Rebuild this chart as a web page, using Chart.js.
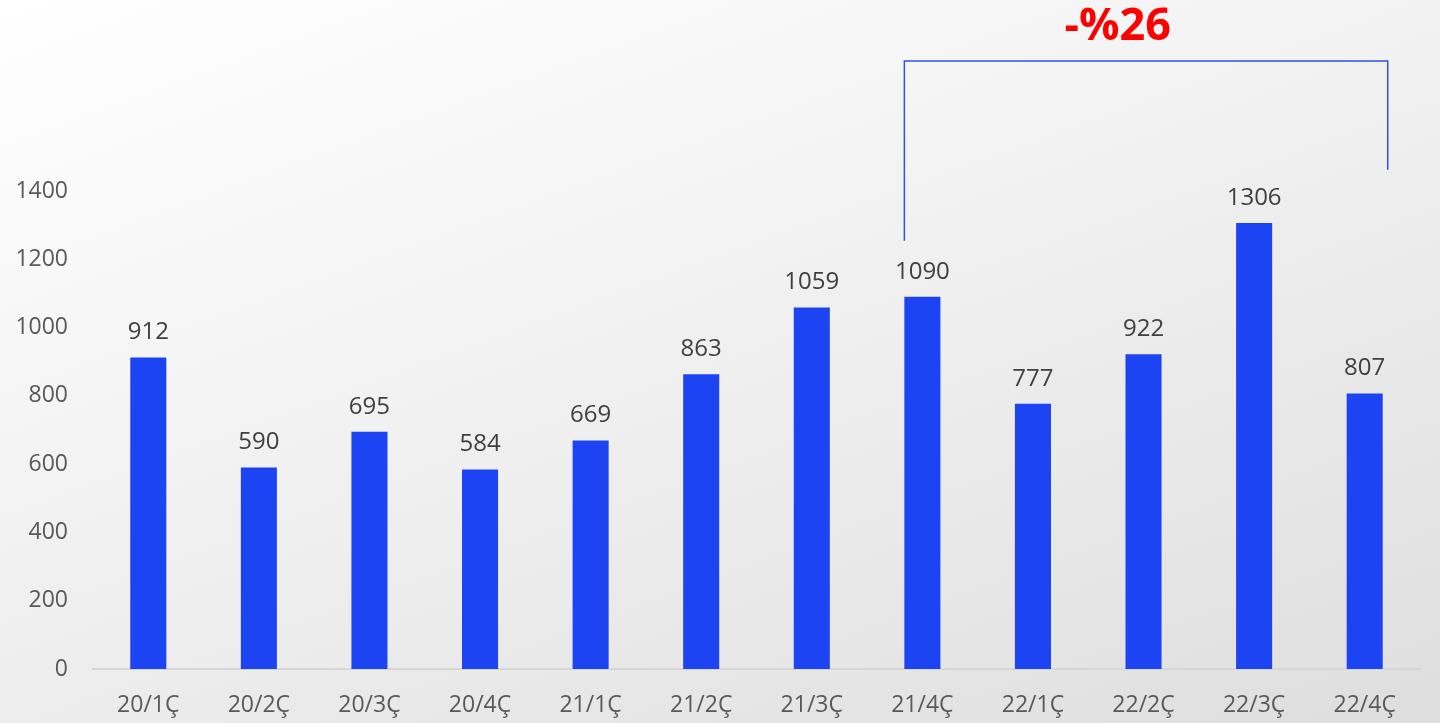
<!DOCTYPE html>
<html>
<head>
<meta charset="utf-8">
<script src="https://cdn.jsdelivr.net/npm/chart.js@4"></script>
<style>
  html, body { margin: 0; padding: 0; }
  body {
    width: 1440px; height: 723px; overflow: hidden;
    background: linear-gradient(160deg, #ffffff 0%, #f3f3f3 40%, #dedede 100%);
  }
  #wrap { width: 1440px; height: 723px; position: relative; }
</style>
</head>
<body>
<div id="wrap"><canvas id="chart"></canvas></div>
<script>
// 데이터
const categories = ['20/1Ç', '20/2Ç', '20/3Ç', '20/4Ç', '21/1Ç', '21/2Ç', '21/3Ç', '21/4Ç', '22/1Ç', '22/2Ç', '22/3Ç', '22/4Ç'];
const values = [912, 590, 695, 584, 669, 863, 1059, 1090, 777, 922, 1306, 807];
const yTicks = [0, 200, 400, 600, 800, 1000, 1200, 1400];
const changeLabel = '-%26';

const FONT = '"Open Sans", "Noto Sans", sans-serif';

// 막대 위에 값 표시
const valueLabels = {
  id: 'valueLabels',
  afterDatasetsDraw(chart) {
    const ctx = chart.ctx;
    const meta = chart.getDatasetMeta(0);
    ctx.save();
    ctx.font = '24px ' + FONT;
    ctx.fillStyle = '#404040';
    ctx.textAlign = 'center';
    ctx.textBaseline = 'middle';
    meta.data.forEach((bar, i) => {
      ctx.fillText(values[i], bar.x, bar.y - 25);
    });
    ctx.restore();
  }
};

// 21/4Ç ~ 22/4Ç 비교 괄호
const bracket = {
  id: 'bracket',
  afterDraw(chart) {
    const ctx = chart.ctx;
    const x = chart.scales.x;
    const y = chart.scales.y;
    const meta = chart.getDatasetMeta(0);
    const from = meta.data[7];
    const to = meta.data[11];
    const x1 = from.x - from.width / 2;
    const x2 = to.x + to.width / 2 + 5;
    const yLeft = y.getPixelForValue(1254);
    const yTop = y.getPixelForValue(1781);
    const yRight = y.getPixelForValue(1462);
    ctx.save();
    ctx.strokeStyle = '#2f52e6';
    ctx.lineWidth = 1.5;
    ctx.beginPath();
    ctx.moveTo(x1, yLeft);
    ctx.lineTo(x1, yTop);
    ctx.lineTo(x2, yTop);
    ctx.lineTo(x2, yRight);
    ctx.stroke();

    ctx.font = 'bold 45px ' + FONT;
    ctx.fillStyle = '#ff0000';
    ctx.textAlign = 'center';
    ctx.textBaseline = 'middle';
    ctx.fillText(changeLabel, (x.getPixelForValue(9) + x.getPixelForValue(10)) / 2 - 81, yTop - 34);
    ctx.restore();
  }
};

const ctx = document.getElementById('chart').getContext('2d');
const myChart = new Chart(ctx, {
  type: 'bar',
  data: {
    labels: categories,
    datasets: [{
      data: values,
      backgroundColor: '#1c44f2',
      borderWidth: 0,
      categoryPercentage: 1,
      barPercentage: 0.326
    }]
  },
  options: {
    responsive: true,
    maintainAspectRatio: false,
    animation: false,
    layout: { padding: { top: 191, right: 20, left: 0, bottom: 0 } },
    plugins: {
      legend: { display: false },
      tooltip: { enabled: false }
    },
    scales: {
      x: {
        grid: { display: false, drawTicks: false },
        border: { display: true, color: '#d6d6d6', width: 2 },
        ticks: { color: '#595959', font: { family: FONT, size: 23 }, padding: 23 },
        afterFit: (axis) => { axis.height = 54; }
      },
      y: {
        min: 0,
        max: 1400,
        grid: { display: false, drawTicks: false },
        border: { display: false },
        afterBuildTicks: (axis) => { axis.ticks = yTicks.map(v => ({ value: v })); },
        ticks: {
          color: '#595959',
          font: { family: FONT, size: 23 },
          padding: 25,
          callback: (v) => String(v)
        },
        afterFit: (axis) => { axis.width = 93; }
      }
    }
  },
  plugins: [valueLabels, bracket]
});
</script>
</body>
</html>
